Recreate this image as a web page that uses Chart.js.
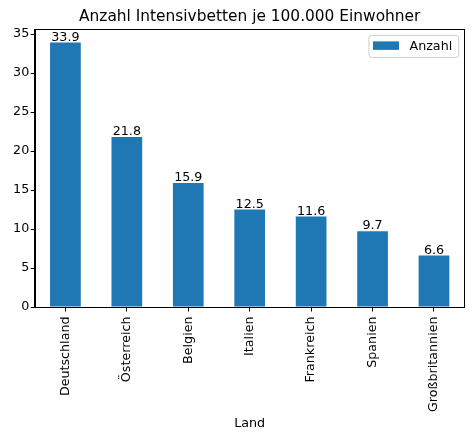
<!DOCTYPE html>
<html>
<head>
<meta charset="utf-8">
<script src="https://cdn.jsdelivr.net/npm/chart.js@4"></script>
<style>
  body { margin: 0; background: #fff; }
  canvas { display: block; }
</style>
</head>
<body>
<canvas id="myChart" width="474" height="440"></canvas>
<script>
const countries = ['Deutschland', 'Österreich', 'Belgien', 'Italien', 'Frankreich', 'Spanien', 'Großbritannien'];
const beds = [33.9, 21.8, 15.9, 12.5, 11.6, 9.7, 6.6];
const seriesName = 'Anzahl';
const yMax = 35.595; // top of the value axis

const FONT = 'DejaVu Sans';
const FS = 12.7;
const BLUE = '#1f77b4';

// value labels on top of the bars
const barLabels = {
  id: 'barLabels',
  afterDatasetsDraw(chart) {
    const ctx = chart.ctx;
    const meta = chart.getDatasetMeta(0);
    ctx.save();
    ctx.font = FS + 'px "' + FONT + '"';
    ctx.fillStyle = '#000';
    ctx.textAlign = 'center';
    ctx.textBaseline = 'alphabetic';
    meta.data.forEach((bar, i) => {
      ctx.fillText(beds[i].toFixed(1), bar.x, bar.y - 2);
    });
    ctx.restore();
  }
};

// axes frame + matplotlib style legend in the upper right
const frameAndLegend = {
  id: 'frameAndLegend',
  afterDraw(chart) {
    const ctx = chart.ctx;
    const a = chart.chartArea;
    ctx.save();
    ctx.strokeStyle = '#000';
    ctx.lineWidth = 1;
    ctx.strokeRect(Math.round(a.left) + 0.5, Math.round(a.top) + 0.5,
      Math.round(a.right - a.left) - 1, Math.round(a.bottom - a.top));

    ctx.font = FS + 'px "' + FONT + '"';
    const label = chart.data.datasets[0].label;
    const tw = ctx.measureText(label).width;
    const w = 5 + 26 + 10 + tw + 6;
    const h = 22;
    const x = a.right - 6.5 - w;
    const y = a.top + 5.5;
    ctx.beginPath();
    ctx.roundRect(x + 0.5, y + 0.5, w, h, 2.5);
    ctx.fillStyle = 'rgba(255,255,255,0.8)';
    ctx.fill();
    ctx.strokeStyle = '#cccccc';
    ctx.stroke();
    ctx.fillStyle = BLUE;
    ctx.fillRect(x + 4.5, y + 6.5, 26, 8.5);
    ctx.fillStyle = '#000';
    ctx.textBaseline = 'middle';
    ctx.fillText(label, x + 41, y + 11.5);
    ctx.restore();
  }
};

new Chart(document.getElementById('myChart'), {
  type: 'bar',
  data: {
    labels: countries,
    datasets: [{
      label: seriesName,
      data: beds,
      backgroundColor: BLUE,
      borderWidth: 0,
      barPercentage: 0.5,
      categoryPercentage: 1.0
    }]
  },
  options: {
    responsive: false,
    animation: false,
    layout: { padding: { left: 0, right: 9.3, top: 0, bottom: 0 } },
    plugins: {
      legend: { display: false },
      tooltip: { enabled: false },
      title: {
        display: true,
        text: 'Anzahl Intensivbetten je 100.000 Einwohner',
        fullSize: false,
        color: '#000',
        font: { family: FONT, size: 15.4, weight: 'normal' },
        padding: { top: 7.3, bottom: 3.6 }
      }
    },
    scales: {
      x: {
        offset: true,
        grid: { display: true, offset: false, drawOnChartArea: false, drawTicks: true, tickLength: 4.5, color: '#000' },
        border: { display: true, color: '#000' },
        ticks: {
          color: '#000',
          font: { family: FONT, size: FS },
          minRotation: 90,
          maxRotation: 90,
          padding: 5,
          autoSkip: false
        },
        title: {
          display: true,
          text: 'Land',
          color: '#000',
          font: { family: FONT, size: FS },
          padding: { top: 0, bottom: 8.5 }
        },
        afterFit(scale) { scale.height = 133; }
      },
      y: {
        min: 0,
        max: yMax,
        grid: { display: true, drawOnChartArea: false, drawTicks: true, tickLength: 4, color: '#000' },
        border: { display: true, color: '#000' },
        ticks: {
          color: '#000',
          font: { family: FONT, size: FS },
          stepSize: 5,
          includeBounds: false,
          padding: 1.5
        },
        afterFit(scale) { scale.width = 34.7; }
      }
    }
  },
  plugins: [barLabels, frameAndLegend]
});
</script>
</body>
</html>
